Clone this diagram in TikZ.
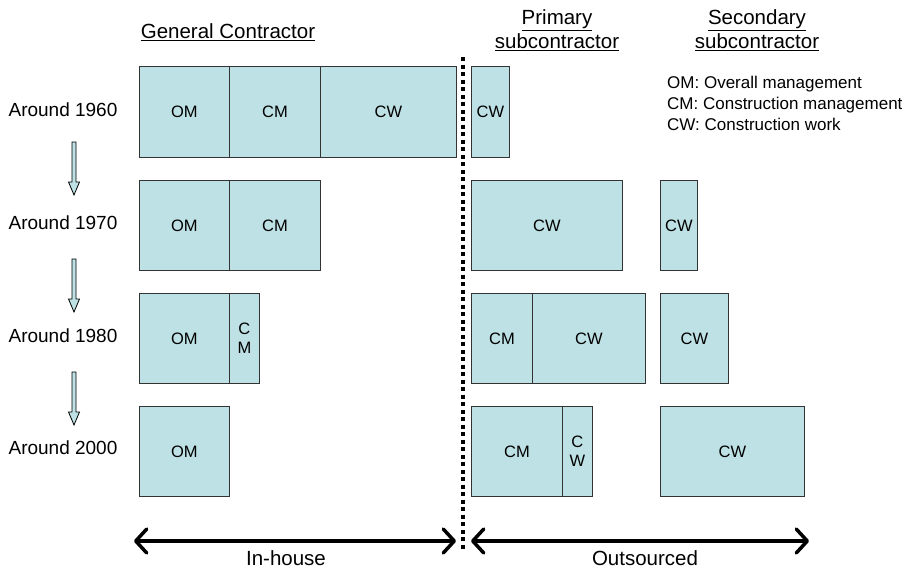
\documentclass[tikz,border=0pt]{standalone}
\usepackage{fontspec}
\setmainfont{Liberation Sans}
\usetikzlibrary{arrows.meta}
\definecolor{boxfill}{HTML}{BDE1E4}
\definecolor{boxline}{HTML}{333333}
\tikzset{barb/.tip={Straight Barb[length=11pt,width=24pt,line width=3.5pt,round]}}
\begin{document}
\begin{tikzpicture}[x=1pt,y=-1pt,
  cell/.style={draw=boxline,fill=boxfill,line width=0.9pt,inner sep=0pt,
    anchor=north west,align=center,font=\fontsize{16.5}{19}\selectfont},
  rowlabel/.style={font=\fontsize{19}{22}\selectfont,inner sep=0pt},
  header/.style={font=\fontsize{20.5}{24}\selectfont,align=center,inner sep=0pt},
  legend/.style={font=\fontsize{17}{21}\selectfont,align=left,anchor=north west,inner sep=0pt},
  span/.style={line width=3.5pt,barb-barb},
  divider/.style={line width=4.5pt,dash pattern=on 4pt off 3.5pt},
  timearrow/.style={draw=black,fill=boxfill,line width=0.8pt},
  spanlabel/.style={font=\fontsize{20.5}{24}\selectfont,inner sep=0pt}]
\useasboundingbox (0,0) rectangle (902,570);

% column headers
\node[header] (hgc) at (228,32) {\underline{General Contractor}};
\node[header] (hpri) at (557,30) {\underline{Primary}\\\underline{subcontractor}};
\node[header] (hsec) at (757,30) {\underline{Secondary}\\\underline{subcontractor}};

% legend
\node[legend] (leg) at (667,76) {OM: Overall management\\CM: Construction management\\CW: Construction work};

% around 1960
\node[cell,minimum width=90pt,minimum height=91pt] (a1) at (139,66) {OM};
\node[cell,minimum width=91pt,minimum height=91pt] (a2) at (229,66) {CM};
\node[cell,minimum width=136pt,minimum height=91pt] (a3) at (320,66) {CW};
\node[cell,minimum width=38pt,minimum height=91pt] (a4) at (471,66) {CW};

% around 1970
\node[cell,minimum width=90pt,minimum height=90pt] (b1) at (139,180) {OM};
\node[cell,minimum width=91pt,minimum height=90pt] (b2) at (229,180) {CM};
\node[cell,minimum width=151pt,minimum height=90pt] (b3) at (471,180) {CW};
\node[cell,minimum width=37pt,minimum height=90pt] (b4) at (660,180) {CW};

% around 1980
\node[cell,minimum width=90pt,minimum height=90pt] (c1) at (139,293) {OM};
\node[cell,minimum width=30pt,minimum height=90pt] (c2) at (229,293) {C\\M};
\node[cell,minimum width=61pt,minimum height=90pt] (c3) at (471,293) {CM};
\node[cell,minimum width=113pt,minimum height=90pt] (c4) at (532,293) {CW};
\node[cell,minimum width=68pt,minimum height=90pt] (c5) at (660,293) {CW};

% around 2000
\node[cell,minimum width=90pt,minimum height=90pt] (d1) at (139,406) {OM};
\node[cell,minimum width=91pt,minimum height=90pt] (d2) at (471,406) {CM};
\node[cell,minimum width=30pt,minimum height=90pt] (d3) at (562,406) {C\\W};
\node[cell,minimum width=144pt,minimum height=90pt] (d4) at (660,406) {CW};

% row labels
\node[rowlabel] (y1) at (63,110) {Around 1960};
\node[rowlabel] (y2) at (63,223) {Around 1970};
\node[rowlabel] (y3) at (63,336) {Around 1980};
\node[rowlabel] (y4) at (63,448) {Around 2000};

% block arrows between the years
\foreach \t in {142,259,372}{
  \draw[timearrow] (72,\t) -- (76,\t) -- (76,\t+40) -- (79.5,\t+40) -- (74,\t+53)
    -- (68.5,\t+40) -- (72,\t+40) -- cycle;
}

% divider between in-house and outsourced
\coordinate (dtop) at (463,57);
\coordinate (dbot) at (463,549);
\draw[divider] (dtop) -- (dbot);

% span arrows
\coordinate (l1) at (134,541);
\coordinate (l2) at (456,541);
\coordinate (r1) at (471,541);
\coordinate (r2) at (809,541);
\draw[span] (l1) -- (l2);
\draw[span] (r1) -- (r2);
\node[spanlabel] (inh) at (286,558) {In-house};
\node[spanlabel] (outs) at (645,558) {Outsourced};
\end{tikzpicture}
\end{document}
